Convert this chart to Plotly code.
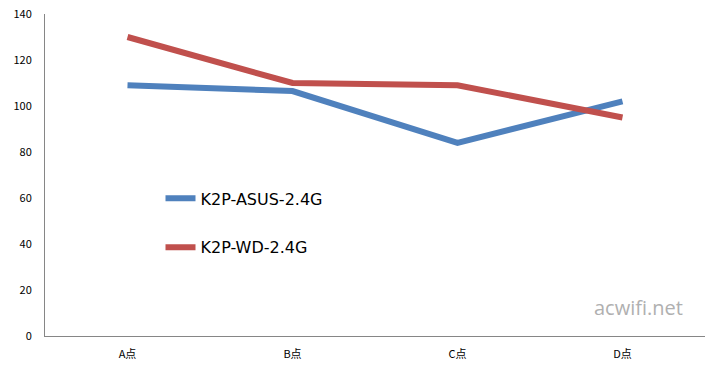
import plotly.graph_objects as go

categories = ["A点", "B点", "C点", "D点"]
asus_values = [109, 106.5, 84, 102]
wd_values = [130, 110, 109, 95]
series_names = ["K2P-ASUS-2.4G", "K2P-WD-2.4G"]
y_ticks = [0, 20, 40, 60, 80, 100, 120, 140]

fig = go.Figure()
fig.add_trace(go.Scatter(x=categories, y=asus_values, mode="lines", name=series_names[0],
                         legendgroup="a",
                         line=dict(color="#4F81BD", width=6)))
fig.add_trace(go.Scatter(x=categories, y=wd_values, mode="lines", name=series_names[1],
                         legendgroup="b",
                         line=dict(color="#C0504D", width=6)))

fig.update_layout(
    width=710, height=377,
    margin=dict(l=45, r=5, t=14, b=41),
    paper_bgcolor="white", plot_bgcolor="white",
    font=dict(family="Noto Sans CJK SC, DejaVu Sans, sans-serif", color="#000000"),
    showlegend=True,
    legend=dict(x=0.175, y=0.48, xanchor="left", yanchor="top",
                bgcolor="rgba(0,0,0,0)", font=dict(size=16, family="DejaVu Sans, sans-serif"),
                tracegroupgap=25, traceorder="grouped", itemwidth=30),
    xaxis=dict(type="category", range=[-0.5, 3.5], showgrid=False, zeroline=False,
               showline=True, linecolor="#868686", linewidth=1, automargin=False,
               ticks="", tickfont=dict(size=11), ticklabelstandoff=8),
    yaxis=dict(range=[0, 140], tickvals=y_ticks, showgrid=False, zeroline=False,
               showline=True, linecolor="#868686", linewidth=1, automargin=False,
               ticks="", tickfont=dict(size=11), ticklabelstandoff=10,
               ticklabeloverflow="allow"),
    annotations=[dict(text="acwifi.net", x=1, y=0.04, xref="paper", yref="paper",
                      xanchor="right", yanchor="bottom", showarrow=False,
                      font=dict(size=20, color="#B0B0B0", family="Open Sans, sans-serif"),
                      xshift=-20)],
)

fig.write_html("out.html", config={"displayModeBar": False},
               post_script="document.body.style.margin='0';")
